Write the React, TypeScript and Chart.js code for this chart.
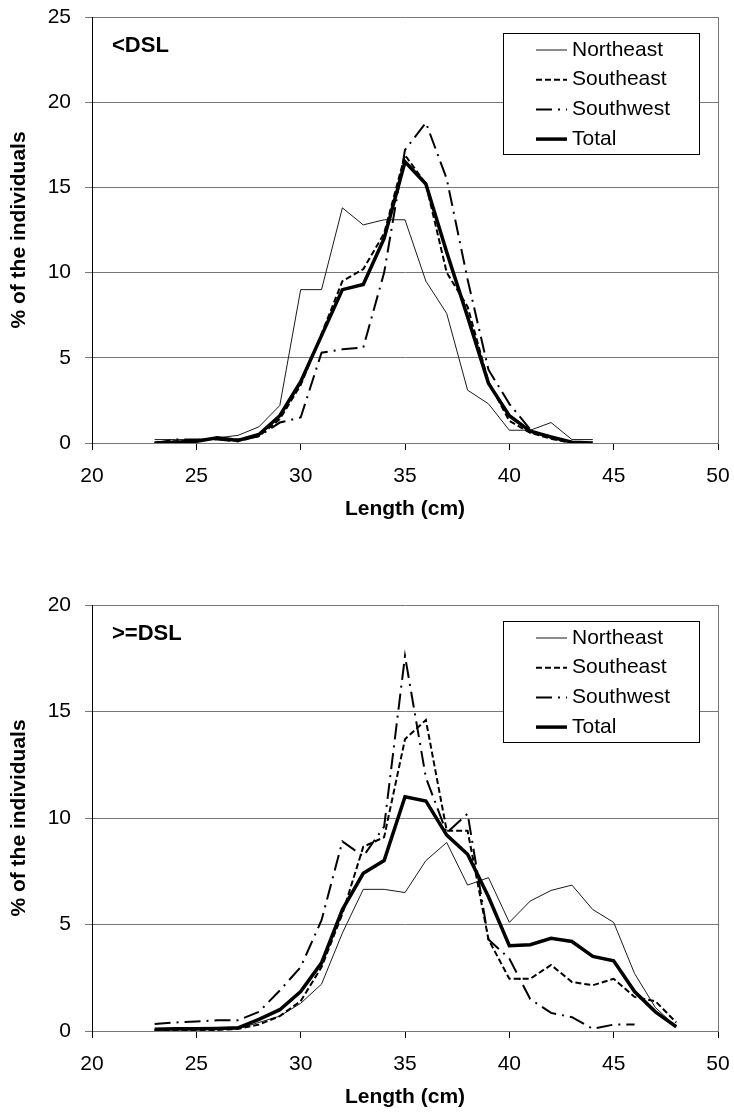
import React, { useEffect, useRef } from 'react';
import { Chart, registerables } from 'chart.js';

Chart.register(...registerables);

const FONT = 'Arial, "Liberation Sans", sans-serif';

// ---------- data ----------
const seriesNames = ['Northeast', 'Southeast', 'Southwest', 'Total'];
const xTickMin = 20;
const xTickMax = 50;
const xTickStep = 5;

// Upper panel: < DSL
const lengthsTop = [23, 24, 25, 26, 27, 28, 29, 30, 31, 32, 33, 34, 35, 36, 37, 38, 39, 40, 41, 42, 43, 44];
const northeastTop = [0.2, 0.2, 0.2, 0.3, 0.45, 0.95, 2.2, 9.0, 9.0, 13.8, 12.8, 13.1, 13.1, 9.5, 7.6, 3.1, 2.3, 0.75, 0.75, 1.2, 0.2, 0.2];
const southeastTop = [0.0, 0.1, 0.1, 0.3, 0.2, 0.4, 1.4, 3.4, 6.4, 9.5, 10.2, 12.3, 16.9, 15.2, 10.0, 8.0, 3.6, 1.3, 0.6, 0.25, 0.0, null];
const southwestTop = [0.0, 0.2, 0.2, 0.2, 0.1, 0.4, 1.2, 1.5, 5.3, 5.5, 5.6, 10.0, 17.2, 18.8, 15.5, 9.6, 4.3, 2.3, 0.8, 0.3, 0.0, null];
const totalTop = [0.0, 0.05, 0.1, 0.3, 0.15, 0.5, 1.6, 3.6, 6.3, 9.0, 9.3, 12.0, 16.5, 15.2, 11.2, 7.4, 3.5, 1.6, 0.7, 0.35, 0.05, 0.0];

// Lower panel: >= DSL
const lengthsBottom = [23, 24, 25, 26, 27, 28, 29, 30, 31, 32, 33, 34, 35, 36, 37, 38, 39, 40, 41, 42, 43, 44, 45, 46, 47, 48];
const northeastBottom = [0.05, 0.05, 0.05, 0.1, 0.1, 0.4, 0.7, 1.3, 2.2, 4.6, 6.65, 6.65, 6.5, 8.0, 8.85, 6.85, 7.2, 5.1, 6.1, 6.6, 6.85, 5.7, 5.1, 2.7, 1.1, 0.2];
const southeastBottom = [0.05, 0.05, 0.05, 0.05, 0.1, 0.3, 0.7, 1.4, 3.0, 5.5, 8.65, 9.1, 13.7, 14.6, 9.4, 9.4, 4.3, 2.45, 2.45, 3.1, 2.3, 2.15, 2.45, 1.6, 1.4, 0.4];
const southwestBottom = [0.33, 0.4, 0.45, 0.5, 0.5, 0.9, 1.9, 3.0, 5.2, 8.9, 8.2, 9.6, 17.6, 11.9, 9.3, 10.2, 4.3, 3.4, 1.5, 0.85, 0.65, 0.1, 0.3, 0.3, null, null];
const totalBottom = [0.08, 0.1, 0.1, 0.12, 0.15, 0.55, 1.0, 1.85, 3.2, 5.7, 7.4, 8.0, 11.0, 10.8, 9.2, 8.3, 6.3, 4.0, 4.05, 4.35, 4.2, 3.5, 3.3, 1.85, 0.9, 0.2];

// ---------- styles ----------
const lineStyles = [
  { borderColor: '#1a1a1a', borderWidth: 1, borderDash: [] as number[] },
  { borderColor: '#000000', borderWidth: 2, borderDash: [6, 3] },
  { borderColor: '#000000', borderWidth: 2, borderDash: [16, 6, 2, 6] },
  { borderColor: '#000000', borderWidth: 3.5, borderDash: [] as number[] },
];

function toPoints(xs: number[], ys: (number | null)[]) {
  const pts: { x: number; y: number }[] = [];
  xs.forEach((x, i) => {
    const y = ys[i];
    if (y !== null && y !== undefined) pts.push({ x, y });
  });
  return pts;
}

function panelPlugin(label: string) {
  return {
    id: 'panelDecor',
    afterDatasetsDraw(chart: any) {
      const { ctx, chartArea: a } = chart;
      ctx.save();
      ctx.font = `bold 22px ${FONT}`;
      ctx.fillStyle = '#000';
      ctx.textBaseline = 'middle';
      ctx.textAlign = 'left';
      ctx.fillText(label, a.left + 20, a.top + 29);
      const bx = Math.round(a.right - 215);
      const by = Math.round(a.top + 16);
      const bw = 196;
      const bh = 121;
      ctx.fillStyle = '#fff';
      ctx.fillRect(bx, by, bw, bh);
      ctx.strokeStyle = '#000';
      ctx.lineWidth = 1;
      ctx.setLineDash([]);
      ctx.strokeRect(bx + 0.5, by + 0.5, bw, bh);
      chart.data.datasets.forEach((ds: any, i: number) => {
        const cy = by + 17 + i * 29.7;
        ctx.beginPath();
        ctx.setLineDash(ds.borderDash || []);
        ctx.lineWidth = ds.borderWidth;
        ctx.strokeStyle = ds.borderColor;
        ctx.moveTo(bx + 33, cy);
        ctx.lineTo(bx + 64, cy);
        ctx.stroke();
        ctx.setLineDash([]);
        ctx.font = `21px ${FONT}`;
        ctx.fillStyle = '#000';
        ctx.textBaseline = 'middle';
        ctx.fillText(ds.label, bx + 69, cy);
      });
      ctx.restore();
    },
  };
}

type Props = {
  lengths: number[];
  series: (number | null)[][];
  yMax: number;
  label: string;
  height: number;
  padBottom: number;
};

function LengthChart({ lengths, series, yMax, label, height, padBottom }: Props) {
  const ref = useRef<HTMLCanvasElement>(null);
  useEffect(() => {
    if (!ref.current) return;
    const chart = new Chart(ref.current, {
      type: 'line',
      data: {
        datasets: series.map((s, i) => ({
          label: seriesNames[i],
          data: toPoints(lengths, s),
          borderColor: lineStyles[i].borderColor,
          borderWidth: lineStyles[i].borderWidth,
          borderDash: lineStyles[i].borderDash,
          backgroundColor: 'transparent',
          pointRadius: 0,
          pointHoverRadius: 0,
          tension: 0,
          fill: false,
          borderJoinStyle: 'miter' as const,
          order: 3 - i,
        })),
      },
      options: {
        responsive: false,
        animation: false,
        devicePixelRatio: 1,
        layout: { padding: { left: 0, right: 16, top: 17, bottom: padBottom } },
        plugins: { legend: { display: false }, tooltip: { enabled: false }, title: { display: false } },
        scales: {
          x: {
            type: 'linear',
            min: xTickMin,
            max: xTickMax,
            ticks: { stepSize: xTickStep, padding: 14, color: '#000', font: { family: FONT, size: 21 }, maxRotation: 0 },
            grid: {
              drawOnChartArea: true,
              color: (c: any) => (c.tick && c.tick.value === xTickMax ? '#777' : 'rgba(0,0,0,0)'),
              tickColor: '#000',
              tickLength: 7,
              lineWidth: 1,
            },
            border: { display: true, color: '#777', width: 1 },
            title: { display: true, text: 'Length (cm)', color: '#000', font: { family: FONT, size: 21, weight: 'bold' }, padding: 0 },
            afterFit: (s: any) => { s.height = 79; s.paddingLeft = 0; s.paddingRight = 0; },
          },
          y: {
            min: 0,
            max: yMax,
            ticks: { stepSize: 5, padding: 14, color: '#000', font: { family: FONT, size: 21 } },
            grid: { color: '#777', tickColor: '#777', tickLength: 7, lineWidth: 1 },
            border: { display: true, color: '#000', width: 1 },
            title: { display: true, text: '% of the individuals', color: '#000', font: { family: FONT, size: 21, weight: 'bold' }, padding: { top: 7, bottom: 0 } },
            afterFit: (s: any) => { s.width = 92; s.paddingTop = 0; s.paddingBottom = 0; },
          },
        },
      } as any,
      plugins: [panelPlugin(label)],
    });
    return () => chart.destroy();
  }, []);
  return <canvas ref={ref} width={734} height={height} style={{ display: 'block', width: 734, height }} />;
}

export default function App() {
  return (
    <div style={{ position: 'absolute', left: 0, top: 0, width: 734, background: '#fff' }}>
      <LengthChart
        lengths={lengthsTop}
        series={[northeastTop, southeastTop, southwestTop, totalTop]}
        yMax={25}
        label="<DSL"
        height={588}
        padBottom={66}
      />
      <LengthChart
        lengths={lengthsBottom}
        series={[northeastBottom, southeastBottom, southwestBottom, totalBottom]}
        yMax={20}
        label=">=DSL"
        height={530}
        padBottom={8}
      />
    </div>
  );
}
